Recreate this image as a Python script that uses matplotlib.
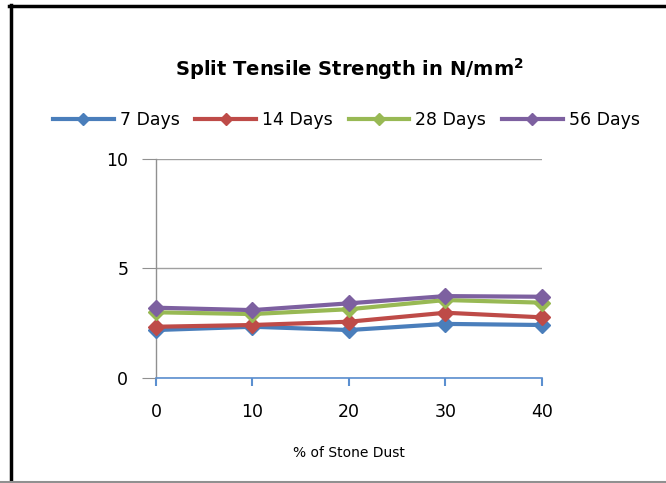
import matplotlib.pyplot as plt
from matplotlib.lines import Line2D

stone_dust = [0, 10, 20, 30, 40]
days_7 = [2.19, 2.34, 2.19, 2.47, 2.42]
days_14 = [2.34, 2.42, 2.57, 2.98, 2.77]
days_28 = [3.00, 2.92, 3.14, 3.56, 3.44]
days_56 = [3.21, 3.10, 3.41, 3.74, 3.71]

series = [
    ("7 Days", days_7, "#4a7ebb"),
    ("14 Days", days_14, "#be4b48"),
    ("28 Days", days_28, "#98b954"),
    ("56 Days", days_56, "#7d60a0"),
]

fig = plt.figure(figsize=(6.66, 4.83), dpi=100)
ax = fig.add_axes([0.2342, 0.2174, 0.5796, 0.4534])

for name, vals, col in series:
    ax.plot(stone_dust, vals, color=col, lw=3, marker="D", ms=8,
            label=name, clip_on=False, zorder=3)

ax.set_xlim(0, 40)
ax.set_ylim(0, 10)
ax.set_xticks(stone_dust)
ax.set_yticks([0, 5, 10])
ax.grid(axis="y", color="#a0a0a0", lw=1)
ax.set_axisbelow(True)

for s in ["top", "right"]:
    ax.spines[s].set_visible(False)
ax.spines["left"].set_color("#909090")
ax.spines["bottom"].set_color("#5b8fd0")
ax.spines["left"].set_linewidth(1)
ax.spines["bottom"].set_linewidth(1.2)
ax.tick_params(axis="y", length=10, color="#909090", labelsize=12.5, pad=10)
ax.tick_params(axis="x", length=6, color="#5b8fd0", width=1.5, labelsize=12.5, pad=12)

ax.set_xlabel("% of Stone Dust", fontsize=10, labelpad=18)

fig.text(0.524, 0.858, "Split Tensile Strength in N/mm$^\\mathregular{2}$",
         ha="center", va="center", fontsize=14, fontweight="bold")

handles = [Line2D([], [], color=c, lw=3, marker="D", ms=6) for _, _, c in series]
fig.legend(handles, [n for n, _, _ in series], loc="center",
           bbox_to_anchor=(0.52, 0.752), ncol=4, frameon=False,
           fontsize=12.5, handlelength=3.5, handletextpad=0.35, columnspacing=0.9)

# chart border (left/top black, bottom gray)
fig.add_artist(Line2D([0.0158, 0.0158], [0.0, 0.99], color="black", lw=2.5,
                      transform=fig.transFigure))
fig.add_artist(Line2D([0.0138, 1.0], [0.988, 0.988], color="black", lw=2.5,
                      transform=fig.transFigure))
fig.add_artist(Line2D([0.0, 1.0], [0.002, 0.002], color="#909090", lw=1.5,
                      transform=fig.transFigure))

fig.savefig("out.png", dpi=100)
